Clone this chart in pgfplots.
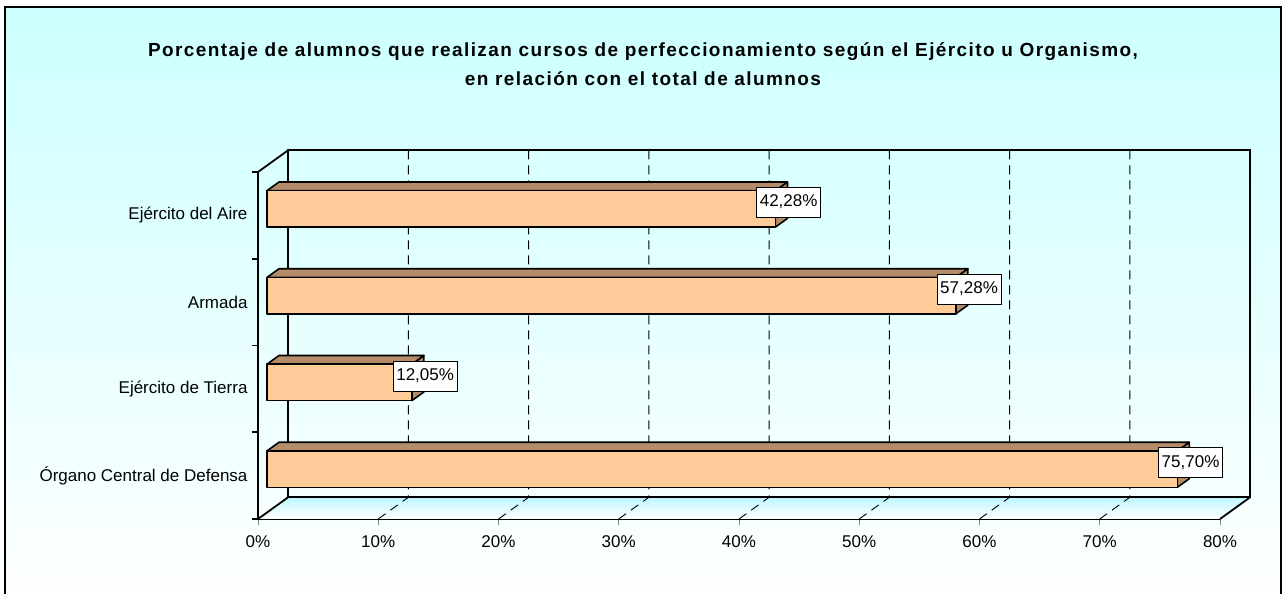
\documentclass[border=0pt]{standalone}
\usepackage{fontspec}
\setmainfont{Liberation Sans}
\newfontfamily\titlefont[LetterSpace=7.4]{Liberation Sans}
\usepackage{pgfplots}
\pgfplotsset{compat=1.18}

\definecolor{bgtop}{RGB}{204,255,255}
\definecolor{barfront}{RGB}{255,204,153}
\definecolor{barside}{RGB}{180,140,105}
\definecolor{floortop}{RGB}{190,246,255}

\tikzset{valbox/.style={anchor=center, fill=white, draw=black, line width=0.7pt,
  inner xsep=3pt, inner ysep=0pt, text height=13pt, text depth=4pt, minimum height=30pt,
  font=\fontsize{17}{20}\selectfont}}

% one pseudo-3D bar: #1 = category centre, #2 = value in %
\newcommand\boxbar[2]{%
  \pgfmathsetmacro\xa{#2+0.75}\pgfmathsetmacro\xb{#2+1.75}%
  \pgfmathsetmacro\ya{#1-0.135}\pgfmathsetmacro\yb{#1+0.285}%
  \pgfmathsetmacro\yc{#1-0.035}\pgfmathsetmacro\yd{#1+0.385}%
  \addplot[barface, fill=barside] coordinates {(\xa,\ya) (\xb,\yc) (\xb,\yd) (\xa,\yb)} -- cycle;
  \addplot[barface, fill=barside] coordinates {(0.75,\yb) (\xa,\yb) (\xb,\yd) (1.75,\yd)} -- cycle;
  \addplot[barface, fill=barfront] coordinates {(0.75,\ya) (\xa,\ya) (\xa,\yb) (0.75,\yb)} -- cycle;
  \pgfmathsetmacro\xl{#2+1.85}\pgfmathsetmacro\yl{#1+0.15}%
  \addplot[draw=none, mark=none, point meta=explicit,
    nodes near coords={\pgfmathprintnumber[fixed,fixed zerofill,precision=2,use comma]{\pgfplotspointmeta}\%},
    nodes near coords style={valbox}]
    coordinates {(\xl,\yl) [#2]};
}

\begin{document}
\begin{tikzpicture}
\useasboundingbox (0,0) rectangle (1282pt,594pt);
\shade[top color=bgtop, bottom color=white] (4pt,-10pt) rectangle (1281pt,587pt);
\draw[line width=2pt] (4.5pt,-10pt) rectangle (1280.5pt,586.5pt);
\node[font=\titlefont\bfseries\fontsize{19}{29}\selectfont, align=center] at (643pt,530pt)
  {Porcentaje de alumnos que realizan cursos de perfeccionamiento según el Ejército u Organismo,\\en relación con el total de alumnos};
\begin{axis}[
    at={(258pt,75pt)}, anchor=south west,
    scale only axis, width=962pt, height=347pt,
    xmin=0, xmax=80, ymin=0, ymax=4,
    clip=false,
    axis x line=bottom, axis y line=left,
    axis line style={-, line width=2.4pt},
    xtick={0,10,...,80},
    xticklabel={\pgfmathprintnumber{\tick}\%},
    ytick={0,1,2,3,4}, yticklabels={},
    extra y ticks={0.5,1.5,2.5,3.5},
    extra y tick labels={Órgano Central de Defensa, Ejército de Tierra, Armada, Ejército del Aire},
    extra y tick style={major tick length=0pt, yticklabel style={xshift=-7pt}},
    tick align=outside, major tick length=6pt,
    xtick style={gray, line width=1pt},
    ytick style={black, line width=1.6pt},
    ticklabel style={font=\fontsize{17}{20}\selectfont},
    xticklabel style={yshift=-7pt},
    /pgf/number format/assume math mode=true,
    barface/.style={draw=black, line width=1.6pt, line join=round, mark=none},
]
\shade[top color=floortop, bottom color=white] (0,0) -- (80,0) -- (82.5,0.25) -- (2.5,0.25) -- cycle;
\draw[line width=1.8pt] (2.5,0.25) rectangle (82.5,4.25);
\draw[line width=1.8pt] (0,0) -- (2.5,0.25) (80,0) -- (82.5,0.25) (0,4) -- (2.5,4.25);
\draw[dash pattern=on 9pt off 6pt, line width=0.9pt]
  (12.5,4.25) -- (12.5,0.25) -- (10,0)
  (22.5,4.25) -- (22.5,0.25) -- (20,0)
  (32.5,4.25) -- (32.5,0.25) -- (30,0)
  (42.5,4.25) -- (42.5,0.25) -- (40,0)
  (52.5,4.25) -- (52.5,0.25) -- (50,0)
  (62.5,4.25) -- (62.5,0.25) -- (60,0)
  (72.5,4.25) -- (72.5,0.25) -- (70,0);
\boxbar{3.5}{42.28}
\boxbar{2.5}{57.28}
\boxbar{1.5}{12.05}
\boxbar{0.5}{75.70}
\end{axis}
\end{tikzpicture}
\end{document}
